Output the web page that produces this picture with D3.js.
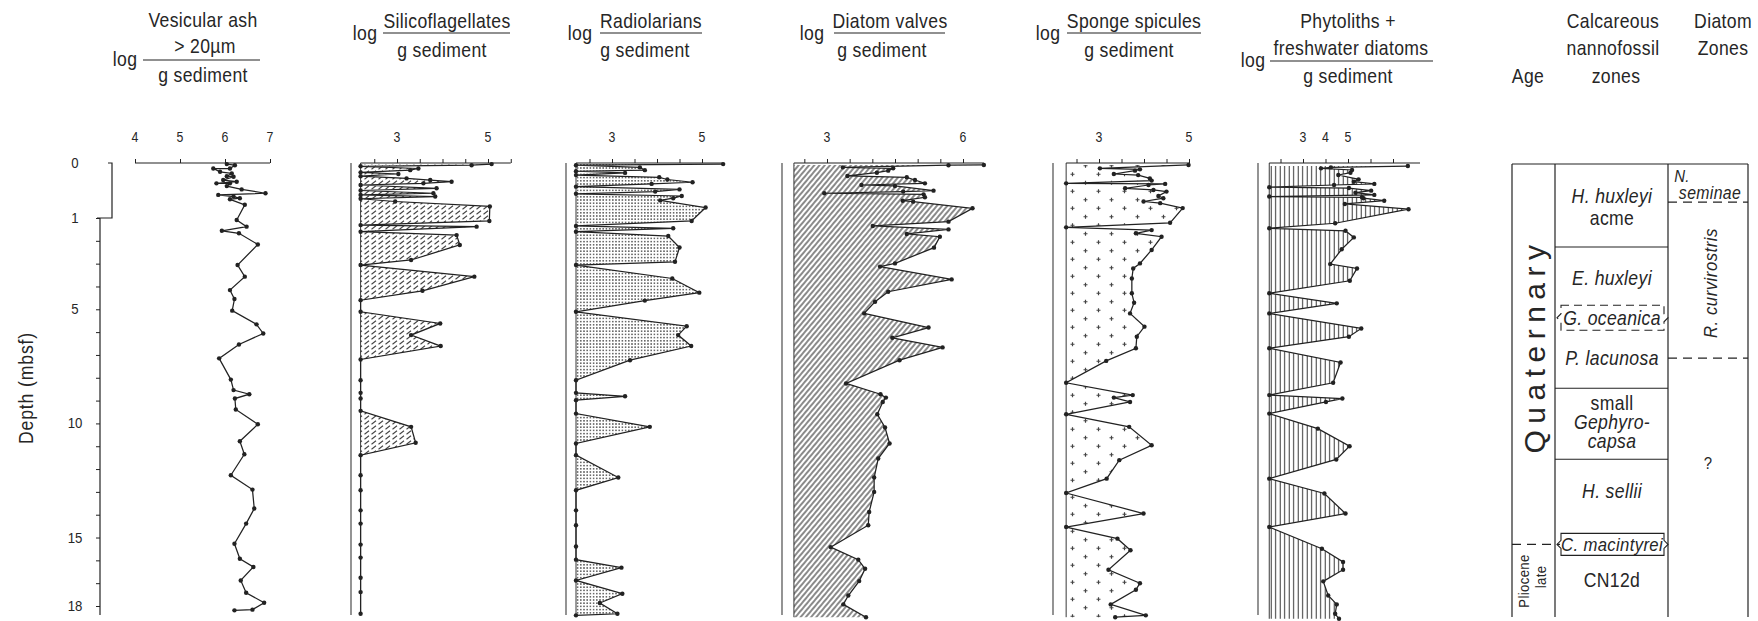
<!DOCTYPE html>
<html>
<head>
<meta charset="utf-8">
<script src="https://cdn.jsdelivr.net/npm/d3@7"></script>
<style>
  body { margin: 0; background: #fff; }
  svg text { font-family: "Liberation Sans", Arial, sans-serif; fill: #262626; }
</style>
</head>
<body>
<svg id="chart" width="1758" height="621"></svg>
<script>
// ---- data (depth in mbsf, values are log counts per g sediment; null = none found) ----
const depthTickLabels = [0, 1, 5, 10, 15, 18];

const ashDepth = [0.02, 0.04, 0.10, 0.10, 0.16, 0.19, 0.24, 0.25, 0.31, 0.34, 0.37, 0.37, 0.42, 0.48, 0.55, 0.58, 0.61, 0.64, 0.66, 0.76,
  1.09, 1.38, 1.56, 1.67, 2.16, 3.06, 3.57, 4.16, 4.55, 5.06, 5.66, 6.06, 6.54, 7.15, 8.08, 8.54, 8.72, 8.91, 9.39, 10.04,
  10.78, 11.35, 12.27, 12.90, 13.73, 14.39, 15.27, 15.93, 16.29, 16.88, 17.42, 17.86, 18.16, 18.19];
const ashLog = [6.04, 6.22, 6.11, 5.74, 5.89, 6.15, 6.04, 6.19, 5.96, 6.26, 5.81, 6.11, 6.04, 6.37, 6.90, 5.85, 6.19, 6.33, 6.11, 6.44,
  6.26, 6.48, 5.93, 6.31, 6.73, 6.28, 6.44, 6.11, 6.21, 6.16, 6.70, 6.85, 6.31, 5.87, 6.13, 6.19, 6.54, 6.22, 6.24, 6.73,
  6.33, 6.43, 6.13, 6.61, 6.65, 6.47, 6.21, 6.33, 6.63, 6.35, 6.47, 6.87, 6.61, 6.21];

const siliDepth = [0.02, 0.04, 0.06, 0.10, 0.13, 0.17, 0.20, 0.24, 0.28, 0.31, 0.34, 0.37, 0.40, 0.46, 0.50, 0.55, 0.58, 0.61, 0.65, 0.70, 0.79,
  1.13, 1.31, 1.38, 1.60, 1.75, 2.18, 2.84, 3.06, 3.57, 4.19, 4.60, 5.11, 5.62, 6.13, 6.61, 7.20, 8.11, 8.66, 8.91, 9.45,
  10.15, 10.85, 11.39, 12.27, 12.93, 13.81, 14.39, 15.31, 15.88, 16.76, 17.39, 18.34];
const siliLog = [5.08, 4.64, null, 3.47, 3.29, null, 3.03, null, 3.21, 3.73, 4.20, 3.58, null, 3.87, null, 3.80, null, 3.84, null, 2.96, 5.04,
  5.03, null, 4.75, null, 4.31, 4.38, 3.31, null, 4.70, 3.56, null, null, 3.95, 3.31, 3.96, null, null, null, null, null,
  3.31, 3.41, null, null, null, null, null, null, null, null, null, null];

const radioDepth = [0.02, 0.04, 0.08, 0.13, 0.15, 0.18, 0.22, 0.26, 0.30, 0.35, 0.38, 0.43, 0.48, 0.52, 0.56, 0.60, 0.64, 0.68, 0.81,
  1.13, 1.35, 1.45, 1.60, 1.79, 2.29, 2.92, 3.06, 3.65, 4.27, 4.62, 5.11, 5.74, 6.13, 6.61, 7.23, 8.11, 8.66, 8.81, 8.98, 9.57,
  10.15, 10.88, 11.39, 12.37, 12.93, 13.81, 14.46, 15.39, 15.97, 16.32, 16.88, 17.46, 17.87, 18.34, 18.41];
const radioLog = [5.47, null, 3.62, 3.73, null, 3.29, null, 4.05, 4.23, 4.79, 3.88, null, 4.50, 3.96, null, 4.55, 4.36, 4.07, 5.08,
  4.77, null, 4.36, null, 4.25, 4.50, 4.40, null, 4.34, 4.94, 3.73, null, 4.66, 4.47, 4.76, 3.40, null, null, 3.29, null, null,
  3.84, null, null, 3.14, null, null, null, null, null, 3.21, null, 3.23, 2.73, 3.12, null];

const diatDepth = [0.036, 0.04, 0.079, 0.097, 0.139, 0.176, 0.236, 0.26, 0.309, 0.37, 0.40, 0.418, 0.503, 0.52, 0.55, 0.57, 0.624, 0.685, 0.703, 0.824,
  1.16, 1.35, 1.50, 1.70, 1.82, 2.30, 2.99, 3.13, 3.69, 4.23, 4.67, 5.18, 5.80, 6.25, 6.67, 7.23, 8.25, 8.72, 8.87, 9.06, 9.60,
  10.18, 10.88, 11.54, 12.37, 13.00, 13.88, 14.46, 15.42, 15.97, 16.37, 16.91, 17.54, 17.93, 18.49];
const diatLog = [6.46, 5.68, 3.35, 4.46, 4.35, 4.10, 3.45, 4.76, 4.94, 5.16, 3.76, 4.50, 5.35, 4.68, 2.94, 5.13, 5.16, 4.67, 4.90, 6.21,
  5.68, 4.01, 5.68, 4.76, 5.49, 5.36, 4.50, 4.17, 5.75, 4.35, 4.06, 3.82, 5.24, 4.44, 5.55, 4.60, 3.42, 4.18, 4.30, 4.23, 4.11,
  4.28, 4.38, 4.13, 4.04, 4.04, 3.93, 3.91, 3.08, 3.69, 3.84, 3.71, 3.47, 3.36, 3.86];

const spongDepth = [0.036, 0.097, 0.115, 0.139, 0.20, 0.22, 0.28, 0.32, 0.37, 0.38, 0.40, 0.46, 0.49, 0.52, 0.60, 0.64, 0.70, 0.73, 0.82,
  1.21, 1.41, 1.53, 1.67, 1.82, 2.40, 2.99, 3.21, 3.65, 4.30, 4.71, 5.18, 5.76, 6.20, 6.71, 7.26, 8.22, 8.76, 8.87, 9.06, 9.60,
  10.15, 10.96, 11.61, 12.42, 13.05, 13.95, 14.54, 15.05, 15.56, 16.41, 17.00, 17.29, 17.93, 18.41, 18.49];
const spongLog = [4.99, 3.02, 3.91, 3.80, 3.33, 3.87, 4.13, 4.17, null, 4.47, 4.10, 3.58, 4.21, 4.50, 4.32, 4.43, 3.99, 4.36, 4.86,
  4.58, null, 4.17, 3.82, 4.39, 4.17, 3.91, 3.76, 3.73, 3.73, 3.78, 3.69, 4.01, 3.84, 3.82, 3.16, null, 3.75, 3.33, 3.69, null,
  3.67, 4.17, 3.45, 3.17, null, 3.99, null, 3.41, 3.70, 3.21, 3.91, 3.82, 3.26, 4.04, 3.36];

const phytoDepth = [0.055, 0.079, 0.097, 0.127, 0.176, 0.218, 0.297, 0.34, 0.38, 0.40, 0.44, 0.455, 0.503, 0.54, 0.58, 0.61, 0.624, 0.64, 0.685, 0.745, 0.84,
  1.23, 1.45, 1.56, 1.85, 2.37, 3.02, 3.21, 3.75, 4.30, 4.74, 5.18, 5.84, 6.20, 6.71, 7.33, 8.22, 8.76, 8.91, 9.06, 9.57,
  10.23, 11.00, 11.58, 12.42, 13.07, 13.95, 14.54, 15.49, 16.07, 16.41, 16.92, 17.54, 17.93, 18.34, 18.56];
const phytoLog = [7.66, 4.24, 3.80, 5.18, 5.11, 4.57, 5.47, 5.26, 6.17, 4.38, null, 5.04, 6.03, 5.33, 6.17, null, 5.62, 5.69, 6.61, 4.86, 7.69,
  4.43, null, 4.89, 5.26, 4.72, 4.21, 5.40, 5.08, null, 4.50, null, 5.59, 5.04, null, 4.67, 4.34, null, 4.75, 4.02, null,
  3.66, 5.07, 4.48, null, 3.95, 4.89, null, 3.84, 4.78, 4.78, 3.90, 4.12, 4.50, 4.43, 4.60];

// stratigraphy (depths in mbsf)
const nannoBoundaries = [2.27, 8.46, 11.57];
const oceanicaRange = [4.82, 5.92];
const macintyreiRange = [14.82, 15.78];
const plioceneTop = 15.3;
const diatomBoundaries = [0.71, 7.14];

// ---- drawing ----
const ink = '#222';
const svg = d3.select('#chart');
svg.append('rect').attr('width', 1758).attr('height', 621).attr('fill', '#fff');

const yDepth = d3.scaleLinear().domain([0, 1, 18]).range([163, 218, 606]);
const axisY = 163, plotBottom = 615;

// text helper: narrow lettering through a horizontal squeeze
function T(x, y, s, o) {
  o = o || {};
  const t = svg.append('text')
    .attr('transform', `translate(${x},${y})` + (o.rotate ? ` rotate(${o.rotate})` : '') + ` scale(${o.sx || 0.88},1)`)
    .attr('text-anchor', o.anchor || 'middle')
    .style('font-size', (o.size || 20) + 'px')
    .style('letter-spacing', (o.ls == null ? 0.4 : o.ls) + 'px')
    .text(s);
  if (o.italic) t.style('font-style', 'italic');
  return t;
}

// fill patterns
const defs = svg.append('defs');
function pattern(id, w, h, transform) {
  const p = defs.append('pattern').attr('id', id).attr('patternUnits', 'userSpaceOnUse')
    .attr('width', w).attr('height', h);
  if (transform) p.attr('patternTransform', transform);
  return p;
}
pattern('pSili', 7, 5).append('path').attr('d', 'M0.5,4.2 L5,0.8')
  .attr('stroke', '#444').attr('stroke-width', 1.1);
pattern('pRadio', 3.2, 3.2).append('circle').attr('cx', 1.6).attr('cy', 1.6).attr('r', 0.85).attr('fill', '#444');
pattern('pDiat', 4, 10, 'rotate(40)').append('line')
  .attr('x1', 2).attr('x2', 2).attr('y1', 0).attr('y2', 10).attr('stroke', '#333').attr('stroke-width', 1.15);
const sp = pattern('pSpong', 26, 17);
[[6.5, 4.25], [19.5, 12.75]].forEach(([cx, cy]) => {
  sp.append('path').attr('d', `M${cx - 2},${cy}H${cx + 2}M${cx},${cy - 2}V${cy + 2}`)
    .attr('stroke', '#444').attr('stroke-width', 1.2);
});
pattern('pPhyto', 4.5, 10).append('line')
  .attr('x1', 2.2).attr('x2', 2.2).attr('y1', 0).attr('y2', 10).attr('stroke', '#333').attr('stroke-width', 1);

const panels = [
  { depth: ashDepth, value: ashLog, domain: [4, 7], range: [135, 270], ticks: [4, 5, 6, 7], labels: [4, 5, 6, 7], axis: [4, 7] },
  { depth: siliDepth, value: siliLog, domain: [3, 5], range: [397, 488], ticks: d3.range(2.5, 5.51, 0.5), labels: [3, 5],
    axis: [2.2, 5.5], floor: 2.2, frame: 351, fill: 'url(#pSili)' },
  { depth: radioDepth, value: radioLog, domain: [3, 5], range: [612, 702], ticks: d3.range(2.5, 5.01, 0.5), labels: [3, 5],
    axis: [2.2, 5.47], floor: 2.2, frame: 566, fill: 'url(#pRadio)' },
  { depth: diatDepth, value: diatLog, domain: [3, 6], range: [827, 963], ticks: d3.range(2.5, 6.01, 0.5), labels: [3, 6],
    axis: [2.27, 6.46], floor: 2.27, frame: 782, fill: 'url(#pDiat)' },
  { depth: spongDepth, value: spongLog, domain: [3, 5], range: [1099, 1189], ticks: d3.range(2.5, 5.01, 0.5), labels: [3, 5],
    axis: [2.27, 5.0], floor: 2.27, frame: 1053, fill: 'url(#pSpong)' },
  { depth: phytoDepth, value: phytoLog, domain: [3, 5], range: [1303, 1348], ticks: d3.range(2, 7.01, 1), labels: [3, 4, 5],
    axis: [1.5, 8.2], floor: 1.5, frame: 1258, fill: 'url(#pPhyto)' }
];

panels.forEach(p => {
  const x = d3.scaleLinear().domain(p.domain).range(p.range);
  const g = svg.append('g');
  const pts = p.depth.map((d, i) => ({ d: d, v: p.value[i] == null ? p.floor : p.value[i] }));

  if (p.frame != null) {
    g.append('line').attr('x1', p.frame).attr('x2', p.frame).attr('y1', axisY).attr('y2', plotBottom)
      .attr('stroke', '#666').attr('stroke-width', 1.4);
  }
  if (p.fill) {
    g.append('path').datum(pts)
      .attr('d', d3.area().y(d => yDepth(d.d)).x0(x(p.floor)).x1(d => x(d.v)))
      .attr('fill', p.fill).attr('stroke', 'none');
    g.append('line').attr('x1', x(p.floor)).attr('x2', x(p.floor))
      .attr('y1', axisY).attr('y2', yDepth(pts[pts.length - 1].d))
      .attr('stroke', ink).attr('stroke-width', 0.9);
  }
  g.append('path').datum(pts)
    .attr('d', d3.line().x(d => x(d.v)).y(d => yDepth(d.d)))
    .attr('fill', 'none').attr('stroke', ink).attr('stroke-width', 1.25);
  g.selectAll('circle').data(pts).join('circle')
    .attr('cx', d => x(d.v)).attr('cy', d => yDepth(d.d)).attr('r', 2.2).attr('fill', ink);

  // top axis
  g.append('line').attr('x1', x(p.axis[0])).attr('x2', x(p.axis[1])).attr('y1', axisY).attr('y2', axisY)
    .attr('stroke', ink).attr('stroke-width', 1.2);
  const ax = g.append('g').attr('transform', `translate(0,${axisY})`)
    .call(d3.axisTop(x).tickValues(p.ticks).tickSize(4).tickFormat(''));
  ax.select('.domain').remove();
  ax.selectAll('line').attr('stroke', ink);
  p.labels.forEach(v => T(x(v), 142, v, { size: 14, ls: 0 }));
});

// depth axis
const dAxis = svg.append('g').attr('transform', 'translate(100,0)')
  .call(d3.axisLeft(yDepth).tickValues(d3.range(1, 19)).tickSize(4).tickFormat(''));
dAxis.select('.domain').remove();
dAxis.selectAll('line').attr('stroke', ink);
svg.append('line').attr('x1', 100).attr('x2', 100).attr('y1', yDepth(1)).attr('y2', plotBottom)
  .attr('stroke', ink).attr('stroke-width', 1.2);
svg.append('path')
  .attr('d', `M108,${yDepth(0)}H112V${yDepth(1)}H97`)
  .attr('fill', 'none').attr('stroke', ink).attr('stroke-width', 1.2);
depthTickLabels.forEach(d => T(75, yDepth(d) + 5, d, { size: 15, ls: 0 }));
T(33, 388, 'Depth  (mbsf)', { rotate: -90, size: 20, ls: 1 });

// headers
function rule(x1, x2, y) {
  svg.append('line').attr('x1', x1).attr('x2', x2).attr('y1', y).attr('y2', y)
    .attr('stroke', ink).attr('stroke-width', 1.2);
}
T(203, 27, 'Vesicular ash');
T(125, 66, 'log');
T(205, 53, '> 20µm');
rule(143, 260, 60);
T(203, 82, 'g sediment');

const fracHeads = [
  { log: 365, num: 'Silicoflagellates', numX: 447, denX: 442, l1: 383, l2: 510 },
  { log: 580, num: 'Radiolarians', numX: 651, denX: 645, l1: 600, l2: 702 },
  { log: 812, num: 'Diatom valves', numX: 890, denX: 882, l1: 834, l2: 945 },
  { log: 1048, num: 'Sponge spicules', numX: 1134, denX: 1129, l1: 1067, l2: 1201 }
];
fracHeads.forEach(h => {
  T(h.log, 40, 'log');
  T(h.numX, 28, h.num);
  rule(h.l1, h.l2, 33);
  T(h.denX, 57, 'g sediment');
});
T(1348, 28, 'Phytoliths +');
T(1253, 67, 'log');
T(1351, 55, 'freshwater diatoms');
rule(1270, 1433, 61);
T(1348, 83, 'g sediment');

T(1528, 83, 'Age');
T(1613, 28, 'Calcareous');
T(1613, 55, 'nannofossil');
T(1616, 83, 'zones');
T(1723, 28, 'Diatom');
T(1723, 55, 'Zones');

// stratigraphic table
const colX = [1512, 1555, 1668, 1748];
const tTop = yDepth(0) + 1, tBot = 617;
colX.forEach(cx => svg.append('line').attr('x1', cx).attr('x2', cx).attr('y1', tTop).attr('y2', tBot)
  .attr('stroke', ink).attr('stroke-width', 1.2));
rule(colX[0], colX[3], tTop);
nannoBoundaries.forEach(d => rule(colX[1], colX[2], yDepth(d)));
function dashed(x1, x2, y) {
  svg.append('line').attr('x1', x1).attr('x2', x2).attr('y1', y).attr('y2', y)
    .attr('stroke', ink).attr('stroke-width', 1.2).attr('stroke-dasharray', '9,6');
}
diatomBoundaries.forEach(d => dashed(colX[2], colX[3], yDepth(d)));
dashed(colX[0], colX[1] + 5, yDepth(plioceneTop));

// G. oceanica (dashed brace box) and C. macintyrei (solid box)
function braceBox(y0, y1, dash) {
  const m = (y0 + y1) / 2, l = 1561, r = 1664;
  svg.append('path')
    .attr('d', `M${l},${y0}H${r}V${m - 4}l4,4l-4,4V${y1}H${l}V${m + 4}l-4,-4l4,-4Z`)
    .attr('fill', 'none').attr('stroke', ink).attr('stroke-width', 1.1)
    .attr('stroke-dasharray', dash ? '8,5' : null);
}
braceBox(yDepth(oceanicaRange[0]), yDepth(oceanicaRange[1]), true);
braceBox(yDepth(macintyreiRange[0]), yDepth(macintyreiRange[1]), false);

T(1612, 203, 'H. huxleyi', { italic: true });
T(1612, 225, 'acme');
T(1612, 285, 'E. huxleyi', { italic: true });
T(1612, 325, 'G. oceanica', { italic: true });
T(1612, 365, 'P. lacunosa', { italic: true });
T(1612, 410, 'small');
T(1612, 429, 'Gephyro-', { italic: true });
T(1612, 448, 'capsa', { italic: true });
T(1612, 498, 'H. sellii', { italic: true });
T(1612, 551, 'C. macintyrei', { italic: true, size: 19 });
T(1612, 587, 'CN12d');
T(1682, 182, 'N.', { italic: true, size: 17 });
T(1710, 199, 'seminae', { italic: true, size: 18 });
T(1708, 469, '?', { size: 17 });
T(1717, 283, 'R. curvirostris', { italic: true, rotate: -90, size: 19, ls: 0.6 });
T(1545, 346, 'Quaternary', { rotate: -90, size: 30, sx: 1, ls: 6.5 });
T(1529, 581, 'Pliocene', { rotate: -90, size: 15 });
T(1546, 577, 'late', { rotate: -90, size: 15 });
</script>
</body>
</html>
